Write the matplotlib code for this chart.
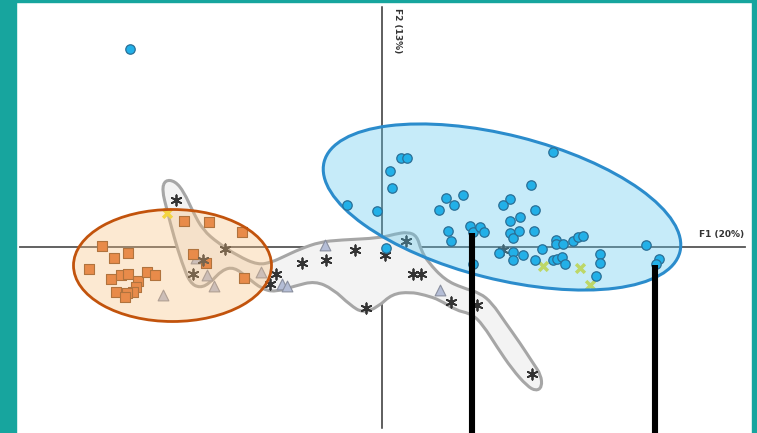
import numpy as np
import matplotlib
matplotlib.use("Agg")
import matplotlib.pyplot as plt
from matplotlib.patches import Ellipse, Rectangle, PathPatch
from matplotlib.path import Path

# Scores des individus sur le plan factoriel F1 x F2
bleu_f1 = [-5.04, -0.70, -0.10, 0.08, 0.16, 0.20, 0.38, 0.50, 1.14, 1.28, 1.44, 1.62,
           1.32, 1.38, 1.76, 1.82, 1.96, 2.04, 1.82, 2.56, 2.42, 2.56, 2.76, 3.06,
           2.98, 3.42, 2.56, 2.62, 2.74, 3.04, 2.34, 2.62, 2.62, 2.82, 3.06, 3.20,
           3.48, 3.48, 3.62, 3.42, 3.50, 3.60, 3.66, 3.82, 3.92, 4.02, 4.36, 4.36,
           4.28, 5.28, 5.54, 5.48]
bleu_f2 = [3.96, 0.84, 0.72, -0.02, 1.52, 1.18, 1.78, 1.78, 0.74, 0.98, 0.84, 1.04,
           0.32, 0.12, 0.42, 0.30, 0.40, 0.30, -0.34, 0.96, 0.84, 0.52, 0.60, 0.74,
           1.24, 1.90, 0.28, 0.18, 0.32, 0.32, -0.12, -0.10, -0.26, -0.16, -0.26, -0.04,
           0.14, 0.06, 0.06, -0.26, -0.24, -0.20, -0.34, 0.12, 0.20, 0.22, -0.14, -0.32,
           -0.58, 0.04, -0.24, -0.34]

orange_f1 = [-3.96, -3.46, -2.80, -5.60, -5.08, -5.36, -5.86, -5.42, -5.22, -5.08,
             -4.88, -4.70, -4.54, -4.92, -4.98, -5.10, -5.32, -5.14, -3.78, -3.52, -2.76]
orange_f2 = [0.52, 0.50, 0.30, 0.02, -0.12, -0.22, -0.44, -0.64, -0.56, -0.54,
             -0.68, -0.50, -0.56, -0.80, -0.90, -0.92, -0.90, -1.00, -0.14, -0.32, -0.62]

etoile_f1 = [-4.12, -3.14, -3.58, -3.78, -2.12, -2.24, -1.60, -1.12, -0.54, -0.32,
             0.06, 0.48, 0.62, 0.78, 1.38, 1.90, 3.00, 2.42]
etoile_f2 = [0.94, -0.04, -0.26, -0.54, -0.54, -0.74, -0.32, -0.26, -0.06, -1.22,
             -0.16, 0.12, -0.54, -0.54, -1.10, -1.16, -2.54, -0.06]

triangle_f1 = [-3.72, -3.50, -3.36, -4.38, -2.42, -2.00, -1.90, -1.14, 1.16]
triangle_f2 = [-0.22, -0.56, -0.78, -0.96, -0.50, -0.74, -0.78, 0.04, -0.86]

jaune_f1 = [3.22, 3.96, 4.16, -4.30]
jaune_f2 = [-0.38, -0.42, -0.76, 0.68]

# enveloppe du groupe gris
enveloppe_f1 = [-4.34, -4.14, -3.96, -3.78, -3.58, -3.28, -2.88, -2.48, -2.20, -1.98,
                -1.64, -1.24, -0.84, -0.04, 0.26, 0.52, 0.70, 0.78, 0.92, 1.26,
                1.62, 1.96, 2.20, 2.46, 2.76, 3.02, 3.18, 3.20, 3.08, 2.90,
                2.60, 2.30, 2.02, 1.80, 1.46, 1.16, 0.86, 0.56, 0.20, -0.08,
                -0.38, -0.64, -0.98, -1.34, -1.74, -2.14, -2.40, -2.68, -2.96, -3.20,
                -3.44, -3.64, -3.84, -4.00, -4.16, -4.30, -4.40]
enveloppe_f2 = [1.34, 1.32, 1.10, 0.70, 0.34, 0.08, -0.18, -0.36, -0.30, -0.20,
                -0.04, 0.10, 0.14, 0.18, 0.26, 0.30, 0.22, -0.06, -0.30, -0.66,
                -0.82, -0.92, -1.12, -1.50, -1.92, -2.32, -2.56, -2.80, -2.88, -2.78,
                -2.44, -2.00, -1.56, -1.34, -1.26, -1.06, -0.96, -0.90, -0.94, -1.20,
                -1.32, -1.16, -0.84, -0.68, -0.78, -0.90, -0.84, -0.62, -0.40, -0.46,
                -0.72, -0.82, -0.72, -0.32, 0.20, 0.74, 1.14]

# ellipses de confiance: centre, largeur, hauteur, angle
ell_bleu = (2.40, 0.80, 7.34, 2.88, -14.2)
ell_orange = (-4.19, -0.37, 3.96, 2.24, 0.0)

# barres verticales noires
barres_f1 = [1.80, 5.46]
barres_haut = [0.28, -0.36]

teal = '#17a59e'

fig = plt.figure(figsize=(7.57, 4.33), dpi=100)
ax = fig.add_axes([0, 0, 1, 1])
ax.set_xlim(-7.64, 7.5)
ax.set_ylim(-3.72, 4.94)
ax.axis('off')

# axes factoriels
ax.plot([-7.24, 7.26], [0, 0], color='#555555', lw=1.3, zorder=0.5)
ax.plot([0, 0], [-3.62, 4.80], color='#333333', lw=1.1, zorder=0.5)
ax.text(7.24, 0.24, 'F1 (20%)', fontsize=6.5, fontweight='bold', color='#333333',
        ha='right', va='center')
ax.text(0.32, 4.78, 'F2 (13%)', fontsize=6.5, fontweight='bold', color='#333333',
        rotation=270, ha='center', va='top')

# enveloppe lissée (courbes quadratiques entre les milieux)
pts = np.column_stack([enveloppe_f1, enveloppe_f2])
n = len(pts)
mids = (pts + np.roll(pts, -1, axis=0)) / 2
verts = [mids[-1]]
codes = [Path.MOVETO]
for i in range(n):
    verts += [pts[i], mids[i]]
    codes += [Path.CURVE3, Path.CURVE3]
ax.add_patch(PathPatch(Path(verts, codes), facecolor='#f3f3f3', edgecolor='#a6a6a6',
                       lw=2.2, zorder=1))

ax.scatter(triangle_f1, triangle_f2, marker='^', s=60, c='#b4bdd6',
           edgecolors='#8a8f9e', linewidths=0.8, zorder=2)
ax.scatter(orange_f1, orange_f2, marker='s', s=54, c='#df702e',
           edgecolors='#8a4a1a', linewidths=0.8, zorder=2)
ax.scatter(etoile_f1, etoile_f2, marker=(6, 2, 0), s=55, c='#333333',
           linewidths=1.3, zorder=2)
ax.scatter(jaune_f1, jaune_f2, marker='x', s=40, c='#f0e020', linewidths=2.5, zorder=2)

# ellipses
cx, cy, w, h, a = ell_orange
ax.add_patch(Ellipse((cx, cy), w, h, angle=a, facecolor='#f9c080', alpha=0.35,
                     edgecolor='none', zorder=3))
ax.add_patch(Ellipse((cx, cy), w, h, angle=a, facecolor='none',
                     edgecolor='#c2530c', lw=2.0, zorder=3))
cx, cy, w, h, a = ell_bleu
ax.add_patch(Ellipse((cx, cy), w, h, angle=a, facecolor='#5ec8ef', alpha=0.35,
                     edgecolor='none', zorder=3))
ax.add_patch(Ellipse((cx, cy), w, h, angle=a, facecolor='none',
                     edgecolor='#2b8ccc', lw=2.2, zorder=3))

ax.scatter(bleu_f1, bleu_f2, marker='o', s=46, c='#22b0e8',
           edgecolors='#2a6f96', linewidths=0.9, zorder=4)

for x, top in zip(barres_f1, barres_haut):
    ax.plot([x, x], [top, -3.72], color='black', lw=4.4, solid_capstyle='butt', zorder=5)

# cadre
fig.patches.append(Rectangle((0, 0), 16 / 757, 1, transform=fig.transFigure,
                             color=teal, zorder=10))
fig.patches.append(Rectangle((0, 1 - 2 / 433), 1, 2 / 433, transform=fig.transFigure,
                             color=teal, zorder=10))
fig.patches.append(Rectangle((752 / 757, 0), 5 / 757, 1, transform=fig.transFigure,
                             color=teal, zorder=10))

fig.savefig('out.png', dpi=100)
